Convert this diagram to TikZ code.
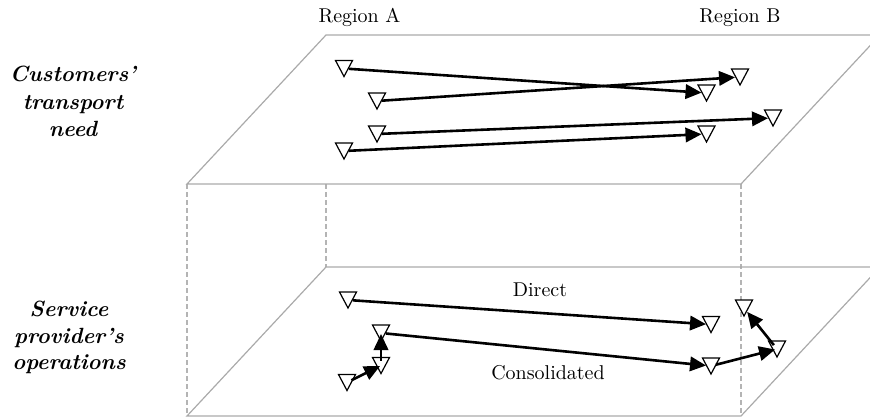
\documentclass[tikz,border=0pt]{standalone}
\usetikzlibrary{arrows.meta}
\definecolor{planegray}{RGB}{170,170,170}
\definecolor{dashgray}{RGB}{180,180,180}
\begin{document}
\begin{tikzpicture}[x=0.5pt,y=-0.5pt,
  plane/.style={draw=planegray, line width=0.6pt},
  guide/.style={draw=dashgray, line width=0.6pt, dash pattern=on 2.5pt off 1.5pt},
  site/.style={circle, inner sep=0pt, minimum size=4.6pt, draw=none},
  tri/.style={draw=black, fill=white, line width=0.6pt, line join=miter},
  arr/.style={line width=1.3pt, -{Triangle[length=8pt,width=7.2pt]}},
  lab/.style={font=\fontsize{10}{12}\selectfont, anchor=base, inner sep=0pt},
  side/.style={font=\fontsize{11}{13.5}\selectfont\bfseries\itshape, anchor=base, inner sep=0pt}]
\useasboundingbox (0,0) rectangle (870,417);
\clip (0,0) rectangle (870,417);
% guides
\draw[guide] (187,184) -- (187,416);
\draw[guide] (326,184) -- (326,267);
\draw[guide] (741,184) -- (741,416);
% planes
\draw[plane] (326,35) -- (880,35) -- (741,184) -- (187,184) -- cycle;
\draw[plane] (326,267) -- (880,267) -- (741,416) -- (187,416) -- cycle;
% labels
\node[lab] (ra) at (359.5,23) {Region A};
\node[lab] (rb) at (740,23) {Region B};
\node[lab] (direct) at (540,296.5) {Direct};
\node[lab] (cons) at (548,379) {Consolidated};
\node[side] (c1) at (73,82) {Customers'};
\node[side] (c2) at (73,109) {transport};
\node[side] (c3) at (73,136) {need};
\node[side] (s1) at (69,316) {Service};
\node[side] (s2) at (69,343) {provider's};
\node[side] (s3) at (69,369) {operations};
% sites, top plane
\node[site] (t1) at (344,68.5) {};
\node[site] (t2) at (377,101) {};
\node[site] (t3) at (377,134) {};
\node[site] (t4) at (344,151) {};
\node[site] (t5) at (740,77) {};
\node[site] (t6) at (706.5,93) {};
\node[site] (t7) at (773,118) {};
\node[site] (t8) at (706.5,134) {};
% sites, bottom plane
\node[site] (a) at (348,300) {};
\node[site] (b) at (711,324.5) {};
\node[site] (c) at (381,333) {};
\node[site] (d) at (381,365.5) {};
\node[site] (e) at (347,382.5) {};
\node[site] (f) at (711,366) {};
\node[site] (g) at (777,349) {};
\node[site] (h) at (744,308) {};
% triangle marks
\foreach \n in {t1,t2,t3,t4,t5,t6,t7,t8,a,b,c,d,e,f,g,h}
  \draw[tri] (\n.center) +(-8.5,-8) -- +(8.5,-8) -- +(0,8) -- cycle;
% connectors
\draw[arr] (t1) -- (t6);
\draw[arr] (t2) -- (t5);
\draw[arr] (t3) -- (t7);
\draw[arr] (t4) -- (t8);
\draw[arr] (a) -- (b);
\draw[arr, shorten >=0.5pt] (e) -- (d.center);
\draw[arr, shorten >=0.5pt] (d) -- (c.center);
\draw[arr] (c) -- (f);
\draw[arr, shorten >=1pt] (f) -- (g.center);
\draw[arr] (g) -- (h);
\end{tikzpicture}
\end{document}
